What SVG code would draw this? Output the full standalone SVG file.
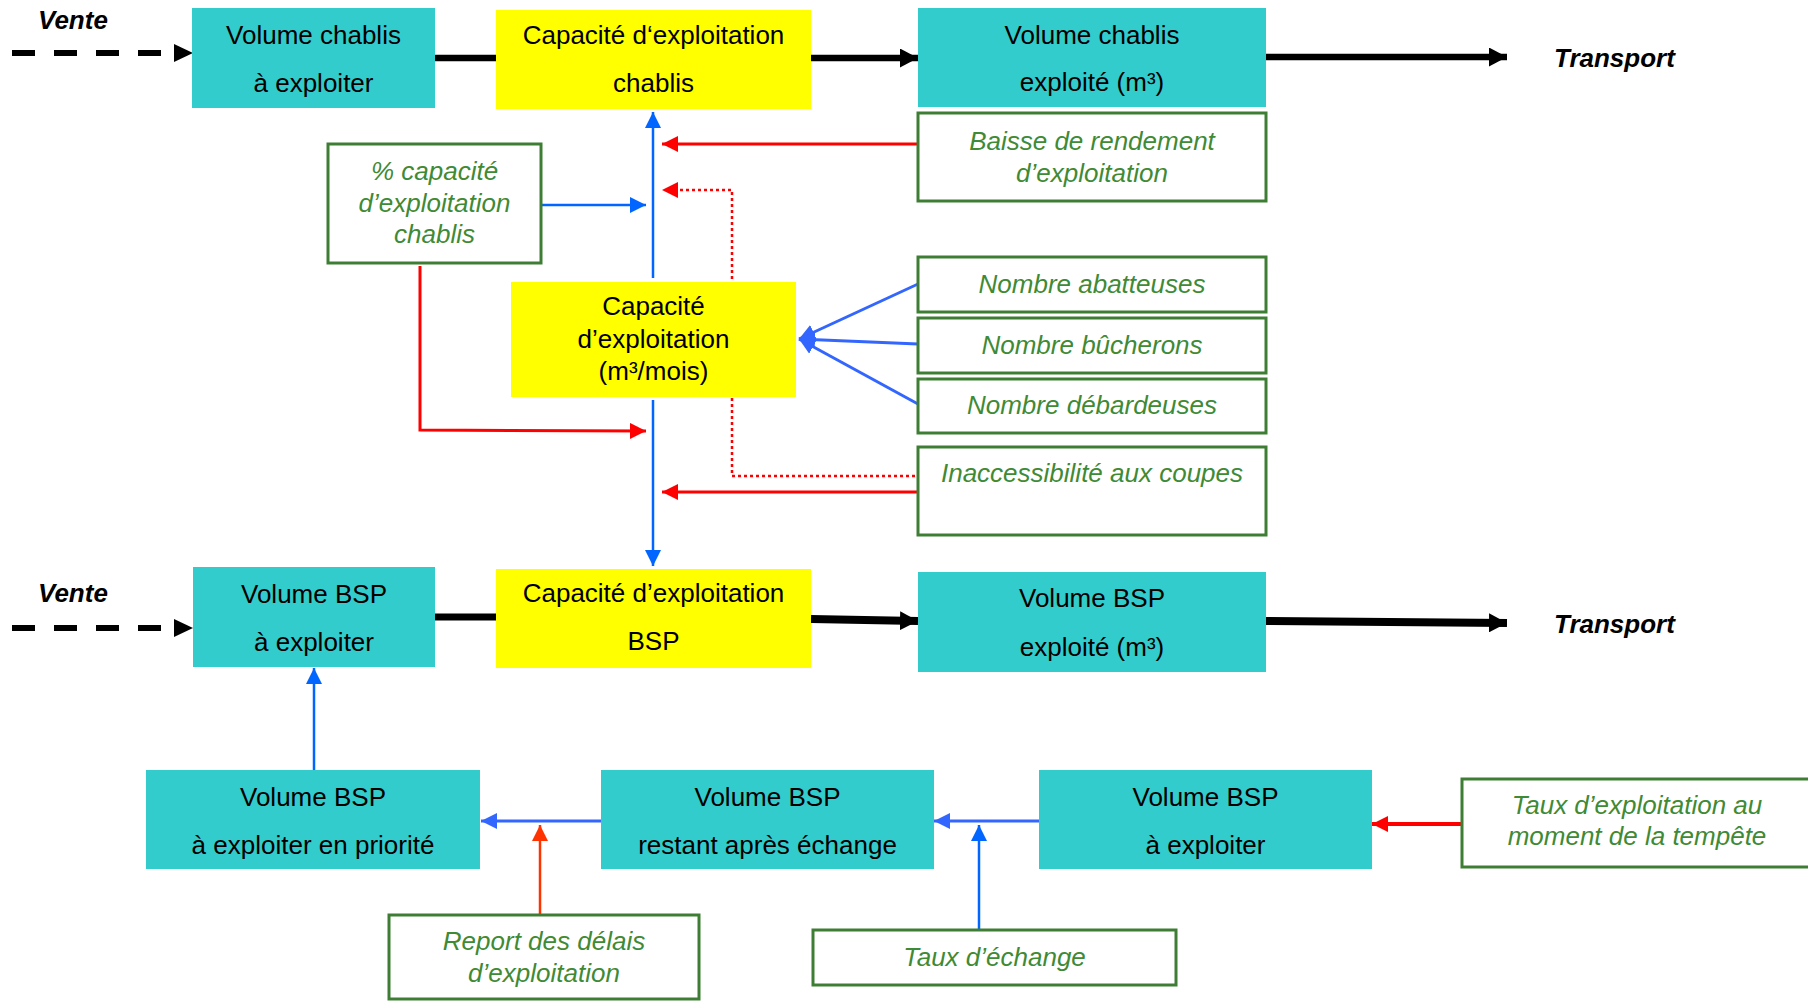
<svg xmlns="http://www.w3.org/2000/svg" width="1808" height="1001" viewBox="0 0 1808 1001">
<style>
.teal{fill:#33CCCC}
.yel{fill:#FFFF00}
.gbox{fill:#FFFFFF;stroke:#3E7D34;stroke-width:3}
.t{font-family:"Liberation Sans",Arial,sans-serif;font-size:26px;fill:#000000;text-anchor:middle}
.g{font-family:"Liberation Sans",Arial,sans-serif;font-size:26px;font-style:italic;fill:#3F8A34;text-anchor:middle}
.b{font-family:"Liberation Sans",Arial,sans-serif;font-size:26px;font-style:italic;font-weight:bold;fill:#000000}
.blk{stroke:#000000;fill:none}
.blu{stroke:#0066FF;stroke-width:2.5;fill:none;marker-end:url(#ab)}
.blu2{stroke:#3366FF;stroke-width:3;fill:none;marker-end:url(#ab2)}
.red{stroke:#FF0000;stroke-width:3;fill:none;marker-end:url(#ar)}
.redd{stroke:#FF0000;stroke-width:2.5;stroke-dasharray:3 3;fill:none}
</style>
<defs>
<marker id="ak" markerUnits="userSpaceOnUse" markerWidth="18" markerHeight="19" refX="18" refY="9.5" orient="auto"><path d="M0,0 L18,9.5 L0,19 z" fill="#000000"/></marker>
<marker id="ak0" markerUnits="userSpaceOnUse" markerWidth="19" markerHeight="18" refX="0" refY="9" orient="auto"><path d="M0,0 L19,9 L0,18 z" fill="#000000"/></marker>
<marker id="ab" markerUnits="userSpaceOnUse" markerWidth="16" markerHeight="16" refX="16" refY="8" orient="auto"><path d="M0,0 L16,8 L0,16 z" fill="#0066FF"/></marker>
<marker id="ab2" markerUnits="userSpaceOnUse" markerWidth="16" markerHeight="16" refX="16" refY="8" orient="auto"><path d="M0,0 L16,8 L0,16 z" fill="#3366FF"/></marker>
<marker id="ar" markerUnits="userSpaceOnUse" markerWidth="16" markerHeight="16" refX="16" refY="8" orient="auto"><path d="M0,0 L16,8 L0,16 z" fill="#FF0000"/></marker>
<marker id="ao" markerUnits="userSpaceOnUse" markerWidth="16" markerHeight="16" refX="16" refY="8" orient="auto"><path d="M0,0 L16,8 L0,16 z" fill="#FF3300"/></marker>
</defs>

<g id="connectors">
  <!-- top row -->
  <line class="blk" x1="12" y1="53" x2="174" y2="53" stroke-width="6" stroke-dasharray="23 19" marker-end="url(#ak0)"/>
  <line class="blk" x1="435" y1="58" x2="496" y2="58" stroke-width="6.5"/>
  <line class="blk" x1="811" y1="58" x2="918" y2="58" stroke-width="6.5" marker-end="url(#ak)"/>
  <line class="blk" x1="1266" y1="57" x2="1507" y2="57" stroke-width="6.5" marker-end="url(#ak)"/>
  <!-- middle -->
  <line class="blu" x1="653" y1="278" x2="653" y2="112"/>
  <line class="blu" x1="653" y1="400" x2="653" y2="566"/>
  <line class="blu" x1="541" y1="205" x2="646" y2="205"/>
  <line class="red" x1="918" y1="144" x2="662" y2="144"/>
  <path class="redd" d="M732,279 L732,190 L676,190"/>
  <path d="M662,190 L678,182 L678,198 z" fill="#FF0000"/>
  <path class="red" d="M420,266 L420,430 L646,431"/>
  <path class="redd" d="M732,398 L732,476 L918,476"/>
  <line class="red" x1="918" y1="492" x2="662" y2="492"/>
  <line class="blu2" x1="918" y1="284" x2="799" y2="339"/>
  <line class="blu2" x1="918" y1="344" x2="799" y2="339"/>
  <line class="blu2" x1="918" y1="404" x2="799" y2="339"/>
  <!-- BSP row -->
  <line class="blk" x1="12" y1="628" x2="174" y2="628" stroke-width="6" stroke-dasharray="23 19" marker-end="url(#ak0)"/>
  <line class="blk" x1="435" y1="617" x2="496" y2="617" stroke-width="7"/>
  <line class="blk" x1="811" y1="619" x2="918" y2="621" stroke-width="8" marker-end="url(#ak)"/>
  <line class="blk" x1="1266" y1="621" x2="1507" y2="623" stroke-width="8" marker-end="url(#ak)"/>
  <!-- bottom row -->
  <line class="blu" x1="314" y1="770" x2="314" y2="668" stroke-width="2"/>
  <line class="blu2" x1="601" y1="821" x2="481" y2="821"/>
  <line class="blu2" x1="1039" y1="821" x2="934" y2="821"/>
  <line x1="540" y1="915" x2="540" y2="825" stroke="#FF3300" stroke-width="2.5" marker-end="url(#ao)"/>
  <line class="blu" x1="979" y1="929" x2="979" y2="825" stroke-width="2"/>
  <line x1="1462" y1="824" x2="1372" y2="824" stroke="#FF0000" stroke-width="4" marker-end="url(#ar)"/>
</g>

<g id="label-vente-1"><text class="b" x="38" y="29">Vente</text></g>
<g id="label-transport-1"><text class="b" x="1554" y="67">Transport</text></g>
<g id="label-vente-2"><text class="b" x="38" y="602">Vente</text></g>
<g id="label-transport-2"><text class="b" x="1554" y="633">Transport</text></g>

<g id="n-volume-chablis"><rect class="teal" x="192" y="8" width="243" height="100"/>
  <text class="t" x="313.5" y="44">Volume chablis</text><text class="t" x="313.5" y="92">à exploiter</text></g>
<g id="n-capacite-chablis"><rect class="yel" x="496" y="10" width="315" height="99"/>
  <text class="t" x="653.5" y="44">Capacité d‘exploitation</text><text class="t" x="653.5" y="92">chablis</text></g>
<g id="n-volume-chablis-exploite"><rect class="teal" x="918" y="8" width="348" height="99"/>
  <text class="t" x="1092" y="44">Volume chablis</text><text class="t" x="1092" y="91">exploité (m³)</text></g>
<g id="n-baisse"><rect class="gbox" x="918" y="113" width="348" height="88"/>
  <text class="g" x="1092" y="150">Baisse de rendement</text><text class="g" x="1092" y="182">d’exploitation</text></g>
<g id="n-pct-capacite"><rect class="gbox" x="328" y="144" width="213" height="119"/>
  <text class="g" x="434.5" y="180">% capacité</text><text class="g" x="434.5" y="212">d’exploitation</text><text class="g" x="434.5" y="243">chablis</text></g>
<g id="n-capacite"><rect class="yel" x="511" y="282" width="285" height="115"/>
  <text class="t" x="653.5" y="315">Capacité</text><text class="t" x="653.5" y="348">d’exploitation</text><text class="t" x="653.5" y="380">(m³/mois)</text></g>
<g id="n-abatteuses"><rect class="gbox" x="918" y="257" width="348" height="55"/>
  <text class="g" x="1092" y="293">Nombre abatteuses</text></g>
<g id="n-bucherons"><rect class="gbox" x="918" y="318" width="348" height="55"/>
  <text class="g" x="1092" y="354">Nombre bûcherons</text></g>
<g id="n-debardeuses"><rect class="gbox" x="918" y="379" width="348" height="54"/>
  <text class="g" x="1092" y="414">Nombre débardeuses</text></g>
<g id="n-inaccessibilite"><rect class="gbox" x="918" y="447" width="348" height="88"/>
  <text class="g" x="1092" y="482">Inaccessibilité aux coupes</text></g>

<g id="n-volume-bsp"><rect class="teal" x="193" y="567" width="242" height="100"/>
  <text class="t" x="314" y="603">Volume BSP</text><text class="t" x="314" y="651">à exploiter</text></g>
<g id="n-capacite-bsp"><rect class="yel" x="496" y="569" width="315" height="99"/>
  <text class="t" x="653.5" y="602">Capacité d’exploitation</text><text class="t" x="653.5" y="650">BSP</text></g>
<g id="n-volume-bsp-exploite"><rect class="teal" x="918" y="572" width="348" height="100"/>
  <text class="t" x="1092" y="607">Volume BSP</text><text class="t" x="1092" y="656">exploité (m³)</text></g>

<g id="n-bsp-priorite"><rect class="teal" x="146" y="770" width="334" height="99"/>
  <text class="t" x="313" y="806">Volume BSP</text><text class="t" x="313" y="854">à exploiter en priorité</text></g>
<g id="n-bsp-restant"><rect class="teal" x="601" y="770" width="333" height="99"/>
  <text class="t" x="767.5" y="806">Volume BSP</text><text class="t" x="767.5" y="854">restant après échange</text></g>
<g id="n-bsp-a-exploiter"><rect class="teal" x="1039" y="770" width="333" height="99"/>
  <text class="t" x="1205.5" y="806">Volume BSP</text><text class="t" x="1205.5" y="854">à exploiter</text></g>
<g id="n-taux-exploitation"><rect class="gbox" x="1462" y="779" width="360" height="88"/>
  <text class="g" x="1637" y="814">Taux d’exploitation au</text><text class="g" x="1637" y="845">moment de la tempête</text></g>
<g id="n-report"><rect class="gbox" x="389" y="915" width="310" height="84"/>
  <text class="g" x="544" y="950">Report des délais</text><text class="g" x="544" y="982">d’exploitation</text></g>
<g id="n-taux-echange"><rect class="gbox" x="813" y="930" width="363" height="55"/>
  <text class="g" x="994.5" y="966">Taux d’échange</text></g>
</svg>
